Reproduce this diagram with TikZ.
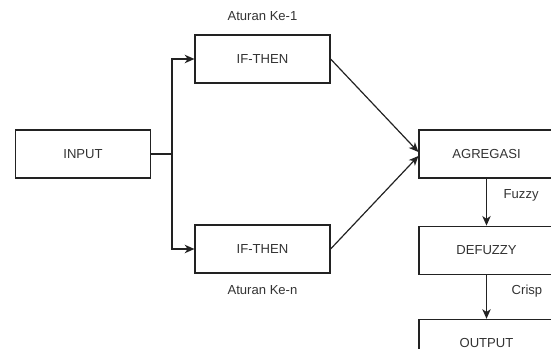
\documentclass[tikz,border=0pt]{standalone}
\usepackage{fontspec}
\setmainfont{Liberation Sans}
\usepackage{tikz}
\usetikzlibrary{arrows.meta,positioning}
\definecolor{ink}{HTML}{222222}
\definecolor{txt}{HTML}{333333}

\begin{document}
\begin{tikzpicture}[
    font=\fontsize{9.3}{11}\selectfont,
    blok/.style={draw=ink,line width=0.85pt,minimum width=3.375cm,minimum height=1.2cm,text=txt},
    ket/.style={text=txt,inner sep=1pt},
    panah/.style={-{Stealth[length=2.4mm,width=2.1mm,inset=0.7mm]},draw=ink,line width=0.85pt}]
  \useasboundingbox (0,0) rectangle (13.775,-8.725);
  \node[blok] (input) at (2.075,-3.85) {INPUT};
  \node[blok] (if1) at (6.5625,-1.475) {IF-THEN};
  \node[blok] (ifn) at (6.5625,-6.225) {IF-THEN};
  \node[blok] (agr) at (12.1625,-3.85) {AGREGASI};
  \node[blok,below=1.175cm of agr] (defz) {DEFUZZY};
  \node[blok,below=1.1cm of defz] (out) {OUTPUT};
  \node[ket,above=0.3cm of if1] (atr1) {Aturan Ke-1};
  \node[ket,below=0.25cm of ifn] (atrn) {Aturan Ke-n};
  \coordinate (cab) at (4.3,-3.85);
  \draw[ink,line width=0.85pt] (input.east) -- (cab);
  \draw[panah] (cab) |- (if1.west);
  \draw[panah] (cab) |- (ifn.west);
  \draw[panah] (if1.east) -- ([yshift=0.05cm]agr.west);
  \draw[panah] (ifn.east) -- ([yshift=-0.05cm]agr.west);
  \draw[panah] (agr) -- (defz) node[ket,pos=0.35,right=0.38cm] (fz) {Fuzzy};
  \draw[panah] (defz) -- (out) node[ket,pos=0.37,right=0.58cm] (cr) {Crisp};
\end{tikzpicture}
\end{document}
